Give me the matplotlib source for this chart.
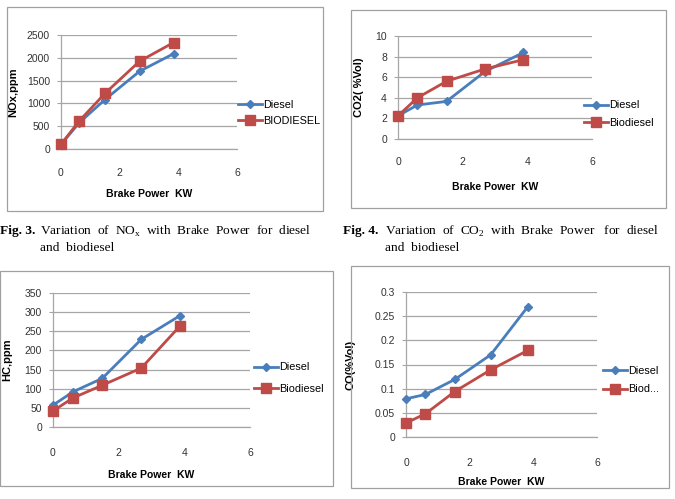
import matplotlib
matplotlib.use("Agg")
import matplotlib.pyplot as plt
from matplotlib.patches import Rectangle
from matplotlib.ticker import FuncFormatter

W, H = 675, 499

# brake power (kW) for each test point
bp_nox = [0, 0.63, 1.5, 2.68, 3.84]
bp_co2 = [0, 0.6, 1.5, 2.69, 3.88]
bp_hc = [0, 0.61, 1.5, 2.69, 3.87]
bp_co = [0, 0.61, 1.53, 2.66, 3.82]

nox_diesel = [100, 580, 1085, 1705, 2090]
nox_bio = [105, 620, 1220, 1925, 2335]
co2_diesel = [2.25, 3.3, 3.65, 6.55, 8.4]
co2_bio = [2.25, 4.0, 5.6, 6.8, 7.7]
hc_diesel = [57, 92, 127, 229, 291]
hc_bio = [42, 76, 109, 154, 264]
co_diesel = [0.079, 0.088, 0.119, 0.17, 0.269]
co_bio = [0.029, 0.048, 0.094, 0.139, 0.179]

x_ticks = [0, 2, 4, 6]

BLUE = "#4a7ebb"
RED = "#be4b48"
GRID = "#a6a6a6"
SANS = "Liberation Sans"
SERIF = "Liberation Serif"

plt.rcParams["mathtext.fontset"] = "custom"
plt.rcParams["mathtext.rm"] = SERIF

fig = plt.figure(figsize=(W / 100, H / 100), dpi=100)


def chart(box, plot, xdata, y1, y2, ylim, ystep, ylabel, labels, leg, tick_y, xlab_y, ylab_x):
    # outer chart border
    bl, bt, br, bb = box
    fig.patches.append(Rectangle((bl / W, 1 - bb / H), (br - bl) / W, (bb - bt) / H,
                                 transform=fig.transFigure, fill=False,
                                 edgecolor="#a0a0a0", linewidth=0.9))
    l, t, r, b = plot
    ax = fig.add_axes([l / W, 1 - b / H, (r - l) / W, (b - t) / H])
    ax.plot(xdata, y1, color=BLUE, lw=2, marker="D", ms=4.2, label=labels[0],
            zorder=3, clip_on=False)
    ax.plot(xdata, y2, color=RED, lw=2, marker="s", ms=6.5, label=labels[1],
            zorder=3, clip_on=False)
    ax.set_xlim(0, 6)
    ax.set_ylim(0, ylim)
    ax.set_xticks(x_ticks)
    n = int(round(ylim / ystep))
    ax.set_yticks([i * ystep for i in range(n + 1)])
    ax.yaxis.set_major_formatter(FuncFormatter(lambda v, p: f"{v:g}"))
    ax.grid(axis="y", color=GRID, lw=0.9)
    ax.set_axisbelow(True)
    for s in ["top", "right"]:
        ax.spines[s].set_visible(False)
    for s in ["left", "bottom"]:
        ax.spines[s].set_color(GRID)
        ax.spines[s].set_linewidth(0.9)
    ax.tick_params(axis="y", length=3, color=GRID, labelsize=7.5, pad=5, labelcolor="#333333")
    ax.tick_params(axis="x", length=0, labelsize=7.5, labelcolor="#333333",
                   pad=(tick_y - b) - 5)
    for lab in ax.get_xticklabels() + ax.get_yticklabels():
        lab.set_family(SANS)
    ax.set_xlabel("Brake Power  KW", fontsize=7.5, fontweight="bold", family=SANS)
    ax.xaxis.set_label_coords(0.5, (b - xlab_y) / (b - t))
    ax.set_ylabel(ylabel, fontsize=8, fontweight="bold", family=SANS)
    ax.yaxis.set_label_coords((ylab_x - l) / (r - l), 0.5)
    lx, ly, sp = leg
    ax.legend(loc="center left", bbox_to_anchor=(lx / W, 1 - ly / H),
              bbox_transform=fig.transFigure, frameon=False, borderpad=0,
              borderaxespad=0, handlelength=2.2, handletextpad=0.1,
              labelspacing=sp, prop={"family": SANS, "size": 7.8})
    return ax


chart((7, 7, 323, 211), (61, 35, 237, 149), bp_nox, nox_diesel, nox_bio, 2500, 500,
      "NOx,ppm", ["Diesel", "BIODIESEL"], (238, 113, 0.5), 168, 189, 18)
chart((351, 10, 666, 208), (398, 36, 592, 139), bp_co2, co2_diesel, co2_bio, 10, 2,
      "CO2( %Vol)", ["Diesel", "Biodiesel"], (584, 114, 0.65), 157, 182, 364)
chart((0, 271, 333, 486), (53, 293, 250, 427), bp_hc, hc_diesel, hc_bio, 350, 50,
      "HC,ppm", ["Diesel", "Biodiesel"], (254, 378, 1.05), 447, 470, 12)
chart((351, 266, 669, 488), (406, 292, 597, 437), bp_co, co_diesel, co_bio, 0.3, 0.05,
      "CO(%Vol)", ["Diesel", "Biod..."], (603, 380, 0.8), 457, 477, 355)

# captions
cap = dict(fontsize=9.6, family=SERIF, va="center")
fig.text(0, 1 - 231 / H, "Fig. 3.", fontweight="bold", **cap)
fig.text(40 / W, 1 - 231 / H,
         r"Variation  of  NO$_{\mathregular{x}}$  with  Brake  Power  for  diesel", **cap)
fig.text(40 / W, 1 - 248 / H, "and  biodiesel", **cap)
fig.text(343 / W, 1 - 231 / H, "Fig. 4.", fontweight="bold", **cap)
fig.text(385 / W, 1 - 231 / H,
         r"Variation  of  CO$_{\mathregular{2}}$  with  Brake  Power   for  diesel", **cap)
fig.text(385 / W, 1 - 248 / H, "and  biodiesel", **cap)

fig.savefig("out.png", dpi=100)
